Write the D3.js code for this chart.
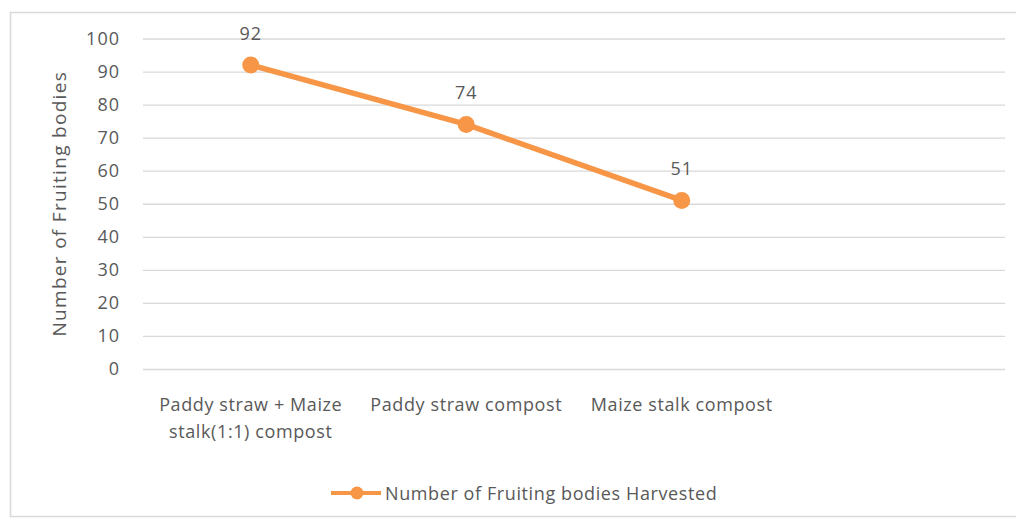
<!DOCTYPE html>
<html>
<head>
<meta charset="utf-8">
<script src="https://cdn.jsdelivr.net/npm/d3@7"></script>
<style>
  html, body { margin: 0; padding: 0; background: #fff; }
  svg { display: block; }
  text { font-family: "Open Sans", "Liberation Sans", sans-serif; fill: #595959; }
</style>
</head>
<body>
<svg id="chart" width="1016" height="518"></svg>
<script>
// ---- data ----
const categories = [
  "Paddy straw + Maize|stalk(1:1) compost",
  "Paddy straw compost",
  "Maize stalk compost",
  ""
];
const values = [92, 74, 51];
const yTicks = [0, 10, 20, 30, 40, 50, 60, 70, 80, 90, 100];
const seriesName = "Number of Fruiting bodies Harvested";
const yTitle = "Number of Fruiting bodies";

// ---- layout ----
const plot = { left: 143, right: 1005, top: 38.5, bottom: 369 };
const orange = "#F79646";
const grid = "#d9d9d9";
const FS = "18px", LS = "0.6px";

const svg = d3.select("#chart");

// frame
svg.append("rect")
  .attr("x", 10.5).attr("y", 12.5)
  .attr("width", 1100).attr("height", 504)
  .attr("fill", "none").attr("stroke", grid).attr("stroke-width", 1.5);

const x = d3.scaleBand().domain(categories).range([plot.left, plot.right]);
const y = d3.scaleLinear().domain([0, 100]).range([plot.bottom, plot.top]);

// gridlines + y tick labels via axis
const yAxis = d3.axisLeft(y).tickValues(yTicks).tickSize(-(plot.right - plot.left)).tickPadding(23);
const gy = svg.append("g").attr("transform", `translate(${plot.left},0)`).call(yAxis);
gy.select(".domain").remove();
gy.selectAll(".tick line").attr("stroke", grid).attr("stroke-width", 1.3);
gy.selectAll(".tick text")
  .style("font-size", FS).style("letter-spacing", "1px").attr("fill", "#595959")
  .style("font-family", "'Open Sans', sans-serif");

// x labels via axis
const xAxis = d3.axisBottom(x).tickSize(0).tickPadding(0).tickFormat(() => "");
const gx = svg.append("g").attr("transform", `translate(0,${plot.bottom})`).call(xAxis);
gx.select(".domain").remove();
gx.selectAll(".tick").each(function(d) {
  const lines = d.split("|");
  const t = d3.select(this).append("text")
    .attr("text-anchor", "middle")
    .attr("fill", "#595959")
    .style("font-size", FS).style("letter-spacing", LS)
    .style("font-family", "'Open Sans', sans-serif");
  lines.forEach((ln, i) => {
    t.append("tspan").attr("x", 0).attr("y", 42 + i * 27).text(ln);
  });
});

// y title
svg.append("text")
  .attr("transform", `translate(66,${(plot.top + plot.bottom) / 2}) rotate(-90)`)
  .attr("text-anchor", "middle")
  .style("font-size", "19px").style("letter-spacing", "1.3px")
  .text(yTitle);

// line
const pts = values.map((v, i) => ({ c: categories[i], v }));
const cx = d => x(d.c) + x.bandwidth() / 2;
svg.append("path")
  .datum(pts)
  .attr("fill", "none")
  .attr("stroke", orange)
  .attr("stroke-width", 5.5)
  .attr("stroke-linejoin", "round")
  .attr("d", d3.line().x(cx).y(d => y(d.v)));

svg.selectAll("circle.pt").data(pts).enter().append("circle")
  .attr("class", "pt")
  .attr("cx", cx).attr("cy", d => y(d.v))
  .attr("r", 8.5).attr("fill", orange);

svg.selectAll("text.lbl").data(pts).enter().append("text")
  .attr("class", "lbl")
  .attr("x", cx).attr("y", d => y(d.v) - 25)
  .attr("text-anchor", "middle")
  .style("font-size", FS).style("letter-spacing", "1px")
  .text(d => d.v);

// legend
const lg = svg.append("g").attr("transform", "translate(331,493)");
lg.append("line").attr("x1", 0).attr("x2", 50).attr("y1", 0).attr("y2", 0)
  .attr("stroke", orange).attr("stroke-width", 4);
lg.append("circle").attr("cx", 26).attr("cy", 0).attr("r", 6.5).attr("fill", orange);
lg.append("text").attr("x", 54).attr("y", 6.5)
  .style("font-size", FS).style("letter-spacing", LS)
  .text(seriesName);
</script>
</body>
</html>
